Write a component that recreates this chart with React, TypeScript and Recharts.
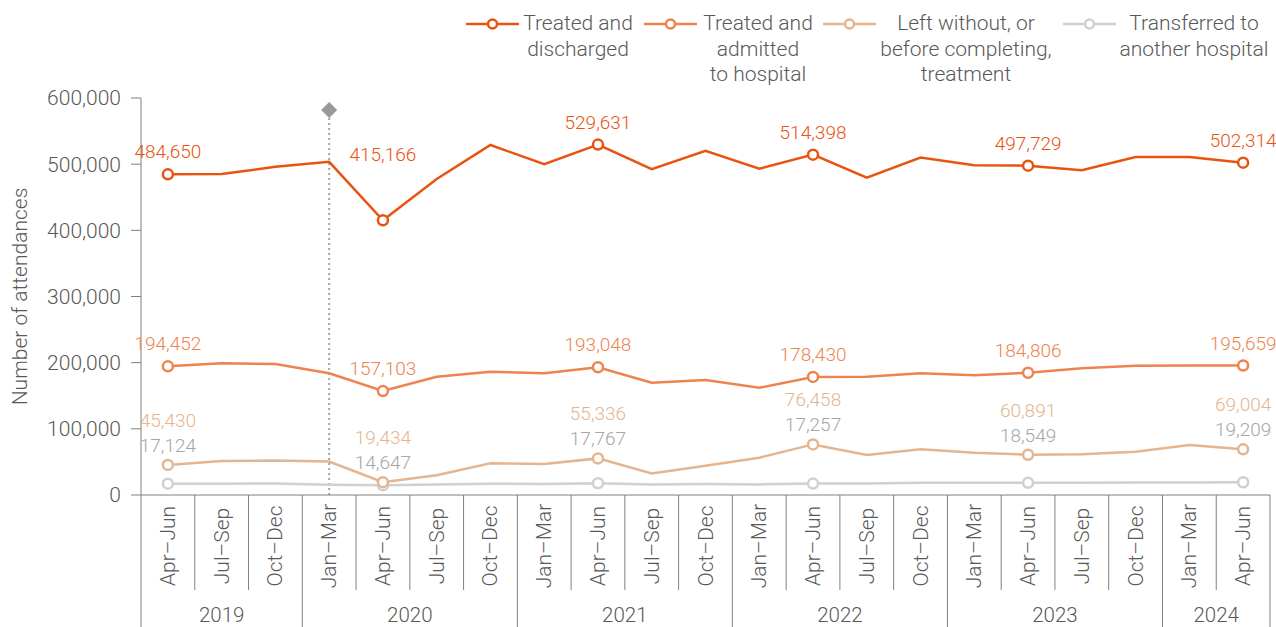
import React from 'react';
import {
  LineChart,
  Line,
  XAxis,
  YAxis,
  LabelList,
  ReferenceLine,
  ReferenceDot,
} from 'recharts';

const QUARTERS = [
  'Apr–Jun', 'Jul–Sep', 'Oct–Dec',
  'Jan–Mar', 'Apr–Jun', 'Jul–Sep', 'Oct–Dec',
  'Jan–Mar', 'Apr–Jun', 'Jul–Sep', 'Oct–Dec',
  'Jan–Mar', 'Apr–Jun', 'Jul–Sep', 'Oct–Dec',
  'Jan–Mar', 'Apr–Jun', 'Jul–Sep', 'Oct–Dec',
  'Jan–Mar', 'Apr–Jun',
];
const YEARS = [
  '2019', '2019', '2019',
  '2020', '2020', '2020', '2020',
  '2021', '2021', '2021', '2021',
  '2022', '2022', '2022', '2022',
  '2023', '2023', '2023', '2023',
  '2024', '2024',
];

const discharged = [
  484650, 485000, 496000, 503500, 415166, 477500, 529000, 500000, 529631, 492500, 520000,
  493000, 514398, 479500, 510000, 498500, 497729, 491000, 510800, 511000, 502314,
];
const admitted = [
  194452, 199000, 198000, 184000, 157103, 178800, 186400, 184000, 193048, 169800, 173800,
  162000, 178430, 178800, 184000, 181000, 184806, 191400, 195500, 195700, 195659,
];
const leftWithout = [
  45430, 51400, 52000, 50500, 19434, 30000, 47800, 46800, 55336, 32700, 44300,
  56400, 76458, 60400, 69000, 64000, 60891, 61500, 65500, 75500, 69004,
];
const transferred = [
  17124, 17000, 17500, 15500, 14647, 16000, 17000, 16500, 17767, 16000, 16500,
  16000, 17257, 17500, 18500, 18500, 18549, 18500, 19000, 19000, 19209,
];

// quarters that carry a marker and a value label
const MARKED = [0, 4, 8, 12, 16, 20];
const Y_TICKS = [0, 100000, 200000, 300000, 400000, 500000, 600000];
const COVID_KEY = '2020 Jan–Mar';
const COVID_Y = 582000;

const data = QUARTERS.map((q, i) => ({
  key: `${YEARS[i]} ${q}`,
  discharged: discharged[i],
  admitted: admitted[i],
  leftWithout: leftWithout[i],
  transferred: transferred[i],
}));

const COLORS = {
  discharged: '#E8540F',
  admitted: '#EE8350',
  leftWithout: '#E5B58F',
  transferred: '#D0D0D0',
  transferredText: '#A6A6A6',
  text: '#595959',
  axis: '#808080',
};

const W = 1276;
const H = 627;
const TOP = 98;
const LEFT = 141;
const RIGHT = 6;
const X_AXIS_H = 132;
const AXIS_Y = H - X_AXIS_H;
const BW = (W - LEFT - RIGHT) / QUARTERS.length;
const FONT = 'Roboto, "Liberation Sans", sans-serif';

const fmt = (v: number) => v.toLocaleString('en-US');

const XTick = (props: any) => {
  const { x, index } = props;
  const i = index as number;
  const left = x - BW / 2;
  const yearStart = i === 0 || YEARS[i] !== YEARS[i - 1];
  const count = YEARS.filter((y) => y === YEARS[i]).length;
  const last = i === QUARTERS.length - 1;
  return (
    <g>
      <line x1={left} x2={left} y1={AXIS_Y} y2={yearStart ? H : 590} stroke={COLORS.axis} strokeWidth={1} />
      {last && <line x1={x + BW / 2} x2={x + BW / 2} y1={AXIS_Y} y2={H} stroke={COLORS.axis} strokeWidth={1} />}
      <text
        transform={`translate(${x},546) rotate(-90)`}
        textAnchor="middle"
        dominantBaseline="central"
        fontSize={21}
        fill={COLORS.text}
      >
        {QUARTERS[i]}
      </text>
      {yearStart && (
        <text x={left + (count * BW) / 2} y={622} textAnchor="middle" fontSize={20.5} fill={COLORS.text}>
          {YEARS[i]}
        </text>
      )}
    </g>
  );
};

const markerDot = (color: string) => (p: any) =>
  MARKED.includes(p.index) ? (
    <circle key={p.index} cx={p.cx} cy={p.cy} r={5} fill="#fff" stroke={color} strokeWidth={2.5} />
  ) : (
    <g key={p.index} />
  );

const topLabel = (color: string, lift: (i: number) => number) => (p: any) => {
  if (!MARKED.includes(p.index)) return null;
  return (
    <text key={p.index} x={p.x} y={p.y - lift(p.index)} textAnchor="middle" fontSize={19} fill={color}>
      {fmt(Number(p.value))}
    </text>
  );
};

// left-without labels sit above the dot, with the transferred value just below them
const lowLabels = (p: any) => {
  if (!MARKED.includes(p.index)) return null;
  return (
    <g key={p.index}>
      <text x={p.x} y={p.y - 38} textAnchor="middle" fontSize={19} fill={COLORS.leftWithout}>
        {fmt(leftWithout[p.index])}
      </text>
      <text x={p.x} y={p.y - 13} textAnchor="middle" fontSize={19} fill={COLORS.transferredText}>
        {fmt(transferred[p.index])}
      </text>
    </g>
  );
};

const LEGEND = [
  { name: ['Treated and', 'discharged'], color: COLORS.discharged, iconLeft: 466, textCenter: 578 },
  { name: ['Treated and', 'admitted', 'to hospital'], color: COLORS.admitted, iconLeft: 644, textCenter: 758 },
  { name: ['Left without, or', 'before completing,', 'treatment'], color: COLORS.leftWithout, iconLeft: 823, textCenter: 966 },
  { name: ['Transferred to', 'another hospital'], color: COLORS.transferred, iconLeft: 1063, textCenter: 1194 },
];

function LegendBlock() {
  return (
    <>
      {LEGEND.map((item) => (
        <React.Fragment key={item.name.join(' ')}>
          <svg width={53} height={12} style={{ position: 'absolute', left: item.iconLeft, top: 18 }}>
            <line x1={0} x2={53} y1={6} y2={6} stroke={item.color} strokeWidth={2.5} />
            <circle cx={26.5} cy={6} r={4.5} fill="#fff" stroke={item.color} strokeWidth={2.5} />
          </svg>
          <div
            style={{
              position: 'absolute',
              top: 11,
              left: item.textCenter - 100,
              width: 200,
              textAlign: 'center',
              fontSize: 21,
              lineHeight: '25.5px',
              color: COLORS.text,
              whiteSpace: 'nowrap',
            }}
          >
            {item.name.map((l) => (
              <div key={l}>{l}</div>
            ))}
          </div>
        </React.Fragment>
      ))}
    </>
  );
}

export default function App() {
  return (
    <div
      style={{
        position: 'absolute',
        left: 0,
        top: 0,
        width: W,
        height: H,
        background: '#fff',
        fontFamily: FONT,
        fontWeight: 300,
      }}
    >
      <LineChart width={W} height={H} data={data} margin={{ top: TOP, right: RIGHT, left: 0, bottom: 0 }}>
        <XAxis
          dataKey="key"
          scale="band"
          interval={0}
          height={X_AXIS_H}
          tick={<XTick />}
          tickLine={false}
          axisLine={{ stroke: COLORS.axis, strokeWidth: 1 }}
        />
        <YAxis
          domain={[0, 600000]}
          ticks={Y_TICKS}
          width={LEFT}
          tickSize={10}
          tickMargin={10}
          tickFormatter={fmt}
          tick={{ fontSize: 21, fill: COLORS.text }}
          tickLine={{ stroke: COLORS.axis }}
          axisLine={{ stroke: COLORS.axis }}
          label={{
            content: () => (
              <text
                transform={`translate(27,${(TOP + AXIS_Y) / 2}) rotate(-90)`}
                textAnchor="middle"
                fontSize={21}
                fill={COLORS.text}
              >
                Number of attendances
              </text>
            ),
          }}
        />
        <ReferenceLine
          segment={[
            { x: COVID_KEY, y: 0 },
            { x: COVID_KEY, y: 572000 },
          ]}
          stroke="#A6A6A6"
          strokeWidth={2}
          strokeDasharray="2 3"
        />
        <ReferenceDot
          x={COVID_KEY}
          y={COVID_Y}
          r={8}
          shape={(p: any) => (
            <polygon
              points={`${p.cx},${p.cy - 8} ${p.cx + 8},${p.cy} ${p.cx},${p.cy + 8} ${p.cx - 8},${p.cy}`}
              fill="#999999"
            />
          )}
        />
        <Line
          dataKey="transferred"
          stroke={COLORS.transferred}
          strokeWidth={2.5}
          dot={markerDot(COLORS.transferred)}
          activeDot={false}
          isAnimationActive={false}
        />
        <Line
          dataKey="leftWithout"
          stroke={COLORS.leftWithout}
          strokeWidth={2.5}
          dot={markerDot(COLORS.leftWithout)}
          activeDot={false}
          isAnimationActive={false}
        >
          <LabelList content={lowLabels} />
        </Line>
        <Line
          dataKey="admitted"
          stroke={COLORS.admitted}
          strokeWidth={2.5}
          dot={markerDot(COLORS.admitted)}
          activeDot={false}
          isAnimationActive={false}
        >
          <LabelList content={topLabel(COLORS.admitted, () => 16)} />
        </Line>
        <Line
          dataKey="discharged"
          stroke={COLORS.discharged}
          strokeWidth={2.5}
          dot={markerDot(COLORS.discharged)}
          activeDot={false}
          isAnimationActive={false}
        >
          <LabelList content={topLabel(COLORS.discharged, (i) => (i === 4 ? 59 : 16))} />
        </Line>
      </LineChart>
      <LegendBlock />
    </div>
  );
}
